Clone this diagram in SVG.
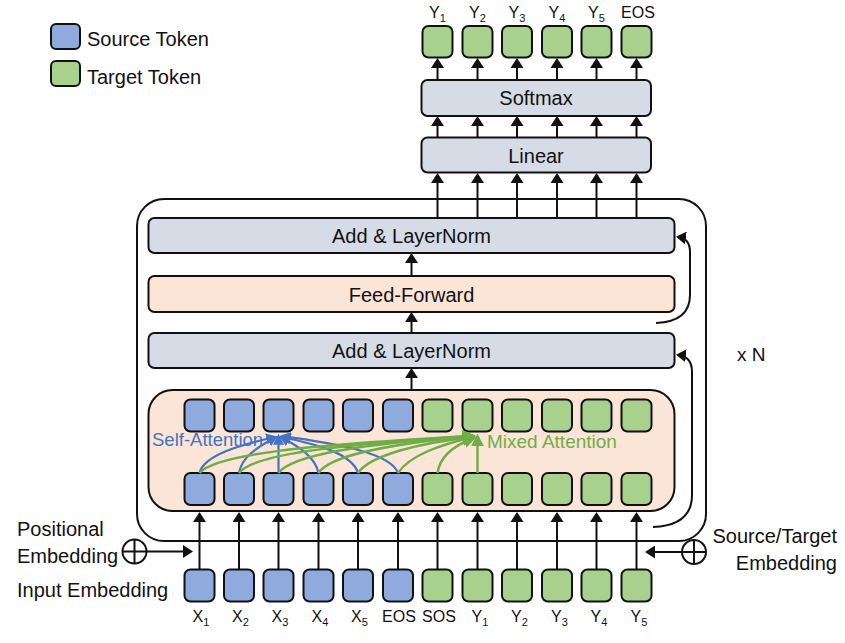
<svg xmlns="http://www.w3.org/2000/svg" width="845" height="643" viewBox="0 0 845 643">
<style>
text{font-family:"Liberation Sans",Arial,sans-serif;fill:#111;}
.lbl{font-size:20px;}
.tok{font-size:16px;}
.sub{font-size:11px;}
.src{fill:#8FAADC;stroke:#111;stroke-width:2;}
.tgt{fill:#A9D18E;stroke:#111;stroke-width:2;}
.gray{fill:#D6DCE5;stroke:#111;stroke-width:2;}
.peach{fill:#FBE5D6;stroke:#111;stroke-width:2;}
.frame{fill:none;stroke:#111;stroke-width:2;}
.ar{fill:none;stroke:#111;stroke-width:2;marker-end:url(#ah);}
.bl{fill:none;stroke:#4472C4;stroke-width:2.2;marker-end:url(#ahb);}
.gr{fill:none;stroke:#70AD47;stroke-width:2.4;marker-end:url(#ahg);}
</style>
<defs>
<marker id="ah" viewBox="0 0 10 13" refX="8" refY="6.5" markerWidth="10" markerHeight="13" markerUnits="userSpaceOnUse" orient="auto"><path d="M0,0 L10,6.5 L0,13 z" fill="#111"/></marker>
<marker id="ahb" viewBox="0 0 10 10" refX="8" refY="5" markerWidth="11" markerHeight="12" markerUnits="userSpaceOnUse" orient="auto"><path d="M0,0 L10,5 L0,10 z" fill="#4472C4"/></marker>
<marker id="ahg" viewBox="0 0 10 10" refX="8" refY="5" markerWidth="13" markerHeight="15" markerUnits="userSpaceOnUse" orient="auto"><path d="M0,0 L10,5 L0,10 z" fill="#70AD47"/></marker>
</defs>

<g id="legend">
<rect class="src" x="51" y="24" width="29" height="25" rx="5"/>
<text class="lbl" x="87" y="46">Source Token</text>
<rect class="tgt" x="51" y="61" width="29" height="25" rx="5"/>
<text class="lbl" x="87" y="84">Target Token</text>
</g>

<g id="outer-frame"><rect class="frame" x="137" y="199" width="569" height="342" rx="27"/></g>
<g id="mixed-attention-block"><rect class="peach" x="148.5" y="390" width="526" height="121" rx="24"/>
<text x="152" y="446" style="font-size:18.5px;fill:#4472C4">Self-Attention</text>
<text x="487" y="448" style="font-size:19px;fill:#70AD47">Mixed Attention</text>
</g>
<g id="add-norm-1"><rect class="gray" x="148.5" y="333" width="526" height="35" rx="6"/><text class="lbl" x="411.5" y="358" text-anchor="middle">Add &amp; LayerNorm</text></g>
<g id="feed-forward"><rect class="peach" x="148.5" y="276" width="526" height="36" rx="6"/><text class="lbl" x="411.5" y="301.5" text-anchor="middle">Feed-Forward</text></g>
<g id="add-norm-2"><rect class="gray" x="148.5" y="218" width="526" height="35" rx="6"/><text class="lbl" x="411.5" y="243" text-anchor="middle">Add &amp; LayerNorm</text></g>
<g id="linear"><rect class="gray" x="421.5" y="137.5" width="229.5" height="35" rx="6"/><text class="lbl" x="536" y="162.5" text-anchor="middle">Linear</text></g>
<g id="softmax"><rect class="gray" x="421.5" y="80" width="229.5" height="36" rx="6"/><text class="lbl" x="536" y="105" text-anchor="middle">Softmax</text></g>
<g id="xN"><text x="737" y="361" style="font-size:19px">x N</text></g>

<g id="output-tokens">
<rect class="tgt" x="422.5" y="26" width="30" height="31.5" rx="6"/>
<rect class="tgt" x="462.5" y="26" width="30" height="31.5" rx="6"/>
<rect class="tgt" x="502" y="26" width="30" height="31.5" rx="6"/>
<rect class="tgt" x="542" y="26" width="30" height="31.5" rx="6"/>
<rect class="tgt" x="581.5" y="26" width="30" height="31.5" rx="6"/>
<rect class="tgt" x="621.5" y="26" width="30" height="31.5" rx="6"/>
<text class="tok" x="437.5" y="18" text-anchor="middle">Y<tspan class="sub" dy="4">1</tspan></text>
<text class="tok" x="477.5" y="18" text-anchor="middle">Y<tspan class="sub" dy="4">2</tspan></text>
<text class="tok" x="517" y="18" text-anchor="middle">Y<tspan class="sub" dy="4">3</tspan></text>
<text class="tok" x="557" y="18" text-anchor="middle">Y<tspan class="sub" dy="4">4</tspan></text>
<text class="tok" x="596.5" y="18" text-anchor="middle">Y<tspan class="sub" dy="4">5</tspan></text>
<text class="tok" x="638" y="18" text-anchor="middle">EOS</text>
</g>

<g id="top-token-row">
<rect class="src" x="184.5" y="399.5" width="30" height="32" rx="6"/>
<rect class="src" x="224" y="399.5" width="30" height="32" rx="6"/>
<rect class="src" x="263.5" y="399.5" width="30" height="32" rx="6"/>
<rect class="src" x="303.5" y="399.5" width="30" height="32" rx="6"/>
<rect class="src" x="343" y="399.5" width="30" height="32" rx="6"/>
<rect class="src" x="383" y="399.5" width="30" height="32" rx="6"/>
<rect class="tgt" x="422.5" y="399.5" width="30" height="32" rx="6"/>
<rect class="tgt" x="462.5" y="399.5" width="30" height="32" rx="6"/>
<rect class="tgt" x="502" y="399.5" width="30" height="32" rx="6"/>
<rect class="tgt" x="542" y="399.5" width="30" height="32" rx="6"/>
<rect class="tgt" x="581.5" y="399.5" width="30" height="32" rx="6"/>
<rect class="tgt" x="621.5" y="399.5" width="30" height="32" rx="6"/>
</g>

<g id="bottom-token-row">
<rect class="src" x="184.5" y="473" width="30" height="32" rx="6"/>
<rect class="src" x="224" y="473" width="30" height="32" rx="6"/>
<rect class="src" x="263.5" y="473" width="30" height="32" rx="6"/>
<rect class="src" x="303.5" y="473" width="30" height="32" rx="6"/>
<rect class="src" x="343" y="473" width="30" height="32" rx="6"/>
<rect class="src" x="383" y="473" width="30" height="32" rx="6"/>
<rect class="tgt" x="422.5" y="473" width="30" height="32" rx="6"/>
<rect class="tgt" x="462.5" y="473" width="30" height="32" rx="6"/>
<rect class="tgt" x="502" y="473" width="30" height="32" rx="6"/>
<rect class="tgt" x="542" y="473" width="30" height="32" rx="6"/>
<rect class="tgt" x="581.5" y="473" width="30" height="32" rx="6"/>
<rect class="tgt" x="621.5" y="473" width="30" height="32" rx="6"/>
</g>

<g id="input-tokens">
<rect class="src" x="184.5" y="569.5" width="30" height="32" rx="6"/>
<rect class="src" x="224" y="569.5" width="30" height="32" rx="6"/>
<rect class="src" x="263.5" y="569.5" width="30" height="32" rx="6"/>
<rect class="src" x="303.5" y="569.5" width="30" height="32" rx="6"/>
<rect class="src" x="343" y="569.5" width="30" height="32" rx="6"/>
<rect class="src" x="383" y="569.5" width="30" height="32" rx="6"/>
<rect class="tgt" x="422.5" y="569.5" width="30" height="32" rx="6"/>
<rect class="tgt" x="462.5" y="569.5" width="30" height="32" rx="6"/>
<rect class="tgt" x="502" y="569.5" width="30" height="32" rx="6"/>
<rect class="tgt" x="542" y="569.5" width="30" height="32" rx="6"/>
<rect class="tgt" x="581.5" y="569.5" width="30" height="32" rx="6"/>
<rect class="tgt" x="621.5" y="569.5" width="30" height="32" rx="6"/>
<text class="tok" x="201" y="622" text-anchor="middle">X<tspan class="sub" dy="4">1</tspan></text>
<text class="tok" x="240.5" y="622" text-anchor="middle">X<tspan class="sub" dy="4">2</tspan></text>
<text class="tok" x="280" y="622" text-anchor="middle">X<tspan class="sub" dy="4">3</tspan></text>
<text class="tok" x="320" y="622" text-anchor="middle">X<tspan class="sub" dy="4">4</tspan></text>
<text class="tok" x="359.5" y="622" text-anchor="middle">X<tspan class="sub" dy="4">5</tspan></text>
<text class="tok" x="399" y="622" text-anchor="middle">EOS</text>
<text class="tok" x="439" y="622" text-anchor="middle">SOS</text>
<text class="tok" x="480" y="622" text-anchor="middle">Y<tspan class="sub" dy="4">1</tspan></text>
<text class="tok" x="519.5" y="622" text-anchor="middle">Y<tspan class="sub" dy="4">2</tspan></text>
<text class="tok" x="559.5" y="622" text-anchor="middle">Y<tspan class="sub" dy="4">3</tspan></text>
<text class="tok" x="599" y="622" text-anchor="middle">Y<tspan class="sub" dy="4">4</tspan></text>
<text class="tok" x="639" y="622" text-anchor="middle">Y<tspan class="sub" dy="4">5</tspan></text>
</g>

<g id="positional-embedding">
<text class="lbl" x="17" y="536">Positional</text>
<text class="lbl" x="17" y="563">Embedding</text>
<circle cx="134.5" cy="551.5" r="12" fill="#fff" stroke="#111" stroke-width="2"/>
<path d="M122.5,551.5 H146.5 M134.5,539.5 V563.5" stroke="#111" stroke-width="2"/>
</g>
<g id="input-embedding-label"><text class="lbl" x="17" y="597">Input Embedding</text></g>
<g id="source-target-embedding">
<text class="lbl" x="837" y="543" text-anchor="end">Source/Target</text>
<text class="lbl" x="837" y="570" text-anchor="end">Embedding</text>
<circle cx="694" cy="552" r="12" fill="#fff" stroke="#111" stroke-width="2"/>
<path d="M682,552 H706 M694,540 V564" stroke="#111" stroke-width="2"/>
</g>

<g id="connectors">
<path class="ar" d="M437.5,80 V60"/><path class="ar" d="M477.5,80 V60"/><path class="ar" d="M517,80 V60"/>
<path class="ar" d="M557,80 V60"/><path class="ar" d="M596.5,80 V60"/><path class="ar" d="M636.5,80 V60"/>
<path class="ar" d="M437.5,137.5 V118"/><path class="ar" d="M477.5,137.5 V118"/><path class="ar" d="M517,137.5 V118"/>
<path class="ar" d="M557,137.5 V118"/><path class="ar" d="M596.5,137.5 V118"/><path class="ar" d="M636.5,137.5 V118"/>
<path class="ar" d="M437.5,218 V175"/><path class="ar" d="M477.5,218 V175"/><path class="ar" d="M517,218 V175"/>
<path class="ar" d="M557,218 V175"/><path class="ar" d="M596.5,218 V175"/><path class="ar" d="M636.5,218 V175"/>
<path class="ar" d="M411.5,276 V255"/>
<path class="ar" d="M411.5,333 V314"/>
<path class="ar" d="M411.5,390 V370"/>
<path class="ar" d="M656,323 C680,322 690,312 690,295 L690,252 C690,243 686,238 678,237"/>
<path class="ar" d="M653,527 C680,526 692,515 692,495 L692,372 C692,362 688,356 678,355"/>
<path class="ar" d="M199.5,569.5 V514"/><path class="ar" d="M239,569.5 V514"/><path class="ar" d="M278.5,569.5 V514"/>
<path class="ar" d="M318.5,569.5 V514"/><path class="ar" d="M358,569.5 V514"/><path class="ar" d="M398,569.5 V514"/>
<path class="ar" d="M437.5,569.5 V514"/><path class="ar" d="M477.5,569.5 V514"/><path class="ar" d="M517,569.5 V514"/>
<path class="ar" d="M557,569.5 V514"/><path class="ar" d="M596.5,569.5 V514"/><path class="ar" d="M636.5,569.5 V514"/>
<path class="ar" d="M146.5,551.5 H191"/>
<path class="ar" d="M682,552 H647"/>
<path class="bl" d="M199.5,473 C204,455 240,445 275,437"/>
<path class="bl" d="M239,473 C242,455 262,445 276,437"/>
<path class="bl" d="M278.5,473 V436"/>
<path class="bl" d="M318.5,473 C315,455 295,445 281,437"/>
<path class="bl" d="M358,473 C352,452 310,443 282,437"/>
<path class="bl" d="M398,473 C390,450 320,442 282,436"/>
<path class="gr" d="M199.5,473 C215,455 300,445 473,436"/>
<path class="gr" d="M239,473 C252,455 330,445 473,436"/>
<path class="gr" d="M278.5,473 C292,455 360,444 473,436"/>
<path class="gr" d="M318.5,473 C330,455 390,444 473,436"/>
<path class="gr" d="M358,473 C370,455 420,443 473,437"/>
<path class="gr" d="M398,473 C410,455 440,445 473,437"/>
<path class="gr" d="M437.5,473 C440,455 455,445 474,438"/>
<path class="gr" d="M477.5,473 V436"/>
</g>
</svg>
